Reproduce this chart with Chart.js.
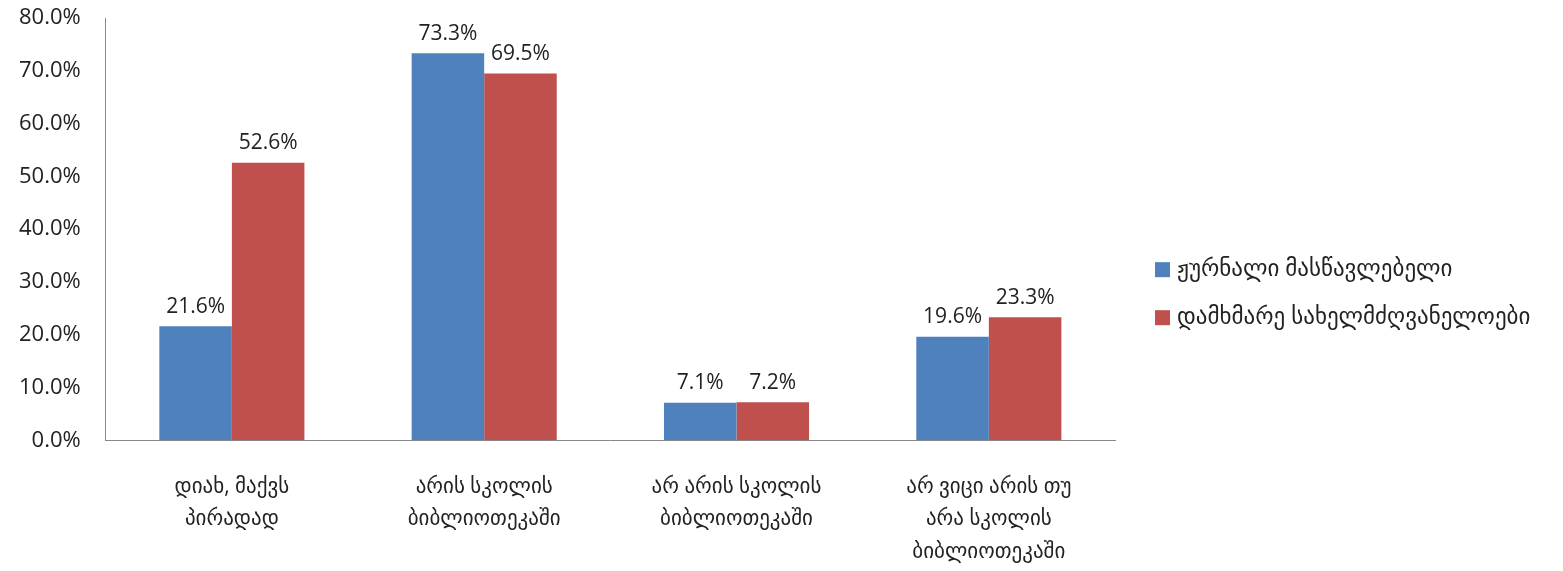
<!DOCTYPE html>
<html>
<head>
<meta charset="utf-8">
<script src="https://cdn.jsdelivr.net/npm/chart.js@4/dist/chart.umd.min.js"></script>
<style>
  html, body { margin: 0; padding: 0; background: #fff; }
  #wrap { width: 1563px; height: 571px; }
</style>
</head>
<body>
<div id="wrap"><canvas id="chart"></canvas></div>
<script>
// categories (multi-line labels as in the original)
const categories = [
    ['დიახ, მაქვს', 'პირადად'],
    ['არის სკოლის', 'ბიბლიოთეკაში'],
    ['არ არის სკოლის', 'ბიბლიოთეკაში'],
    ['არ ვიცი არის თუ', 'არა სკოლის', 'ბიბლიოთეკაში']
];
const seriesNames = ['ჟურნალი მასწავლებელი', 'დამხმარე სახელმძღვანელოები'];
const journalValues = [21.6, 73.3, 7.1, 19.6];
const textbookValues = [52.6, 69.5, 7.2, 23.3];

const FONT = '"Open Sans", "DejaVu Sans", sans-serif';

// draws the value above each bar
const valueLabels = {
    id: 'valueLabels',
    afterDatasetsDraw(chart) {
        const ctx = chart.ctx;
        ctx.save();
        ctx.font = '21px ' + FONT;
        ctx.fillStyle = '#222';
        ctx.textAlign = 'center';
        ctx.textBaseline = 'bottom';
        chart.data.datasets.forEach((ds, i) => {
            chart.getDatasetMeta(i).data.forEach((bar, j) => {
                ctx.fillText(ds.data[j].toFixed(1) + '%', bar.x, bar.y - 9);
            });
        });
        ctx.restore();
    }
};

// legend on the right, drawn by hand (built-in one gets clipped at this width)
const sideLegend = {
    id: 'sideLegend',
    afterDraw(chart) {
        const ctx = chart.ctx;
        const area = chart.chartArea;
        const x = area.right + 40;
        const midY = (area.top + area.bottom) / 2 + 64;
        const gap = 48;
        ctx.save();
        ctx.font = '23px ' + FONT;
        ctx.textBaseline = 'middle';
        ctx.textAlign = 'left';
        chart.data.datasets.forEach((ds, i) => {
            const y = midY + (i - 0.5) * gap;
            ctx.fillStyle = ds.backgroundColor;
            ctx.fillRect(x, y - 7, 15, 15);
            ctx.fillStyle = '#222';
            ctx.fillText(ds.label, x + 22, y);
        });
        ctx.restore();
    }
};

const ctx = document.getElementById('chart').getContext('2d');
new Chart(ctx, {
    type: 'bar',
    data: {
        labels: categories,
        datasets: [{
            label: seriesNames[0],
            data: journalValues,
            backgroundColor: '#4F81BD'
        }, {
            label: seriesNames[1],
            data: textbookValues,
            backgroundColor: '#C0504D'
        }]
    },
    options: {
        responsive: true,
        maintainAspectRatio: false,
        animation: false,
        layout: { padding: { top: 0, right: 448, left: 2, bottom: -19 } },
        datasets: {
            bar: { barPercentage: 1.0, categoryPercentage: 0.575 }
        },
        plugins: {
            legend: { display: false },
            tooltip: { enabled: false }
        },
        scales: {
            x: {
                grid: { display: false },
                border: { color: '#888' },
                ticks: {
                    font: { size: 21, family: FONT, lineHeight: 1.55 },
                    color: '#222',
                    padding: 22,
                    maxRotation: 0
                }
            },
            y: {
                min: 0,
                max: 80,
                grid: { display: false },
                border: { color: '#888' },
                afterFit: scale => { scale.paddingTop = 18; },
                ticks: {
                    stepSize: 10,
                    font: { size: 22, family: FONT },
                    color: '#222',
                    padding: 17,
                    callback: v => v.toFixed(1) + '%'
                }
            }
        }
    },
    plugins: [valueLabels, sideLegend]
});
</script>
</body>
</html>
